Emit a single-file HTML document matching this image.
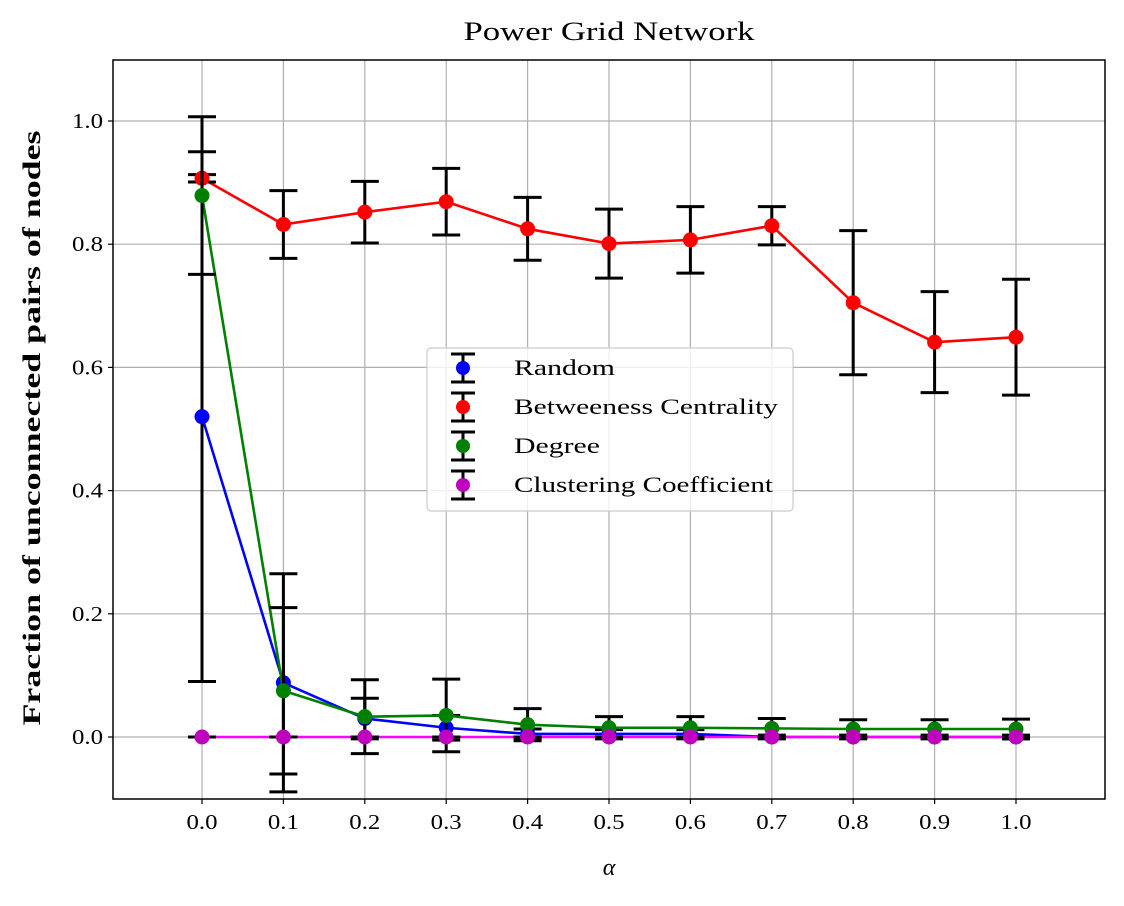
<!DOCTYPE html>
<html><head><meta charset="utf-8"><style>
body{margin:0;background:#fff}
svg text{font-family:"Liberation Serif",serif;fill:#000}
</style></head><body>
<svg id="chart" width="1124" height="901" xmlns="http://www.w3.org/2000/svg"></svg>
<script>
const alphas=[0,0.1,0.2,0.3,0.4,0.5,0.6,0.7,0.8,0.9,1.0];
const randomMean=[0.52,0.088,0.03,0.015,0.005,0.005,0.005,0,0,0,0];
const randomErr=[0.43,0.177,0.033,0.02,0.008,0.007,0.007,0.003,0.003,0.003,0.003];
const betweenMean=[0.907,0.832,0.852,0.869,0.825,0.801,0.807,0.830,0.705,0.641,0.649];
const betweenErr=[0.006,0.055,0.05,0.054,0.051,0.056,0.054,0.031,0.117,0.082,0.094];
const degreeMean=[0.879,0.075,0.033,0.035,0.02,0.015,0.015,0.014,0.013,0.013,0.013];
const degreeErr=[0.128,0.135,0.06,0.059,0.026,0.018,0.018,0.016,0.015,0.015,0.016];
const clusterMean=[0,0,0,0,0,0,0,0,0,0,0];
const clusterErr=[0,0,0,0,0,0,0,0,0,0,0];
const yTicks=[0,0.2,0.4,0.6,0.8,1.0];
const xTicks=[0,0.1,0.2,0.3,0.4,0.5,0.6,0.7,0.8,0.9,1.0];

const L=113,R=1105,T=60,B=799;
const X=v=>202+v*814;
const Y=v=>737-v*616;
const svg=document.getElementById('chart');
const NS='http://www.w3.org/2000/svg';
function mk(tag,attrs,parent){const e=document.createElementNS(NS,tag);for(const k in attrs)e.setAttribute(k,attrs[k]);(parent||svg).appendChild(e);return e;}

const grid=mk('g',{});


xTicks.forEach(t=>{mk('line',{x1:X(t),x2:X(t),y1:T,y2:B,stroke:'#b0b0b0','stroke-width':1.2},grid);});
yTicks.forEach(t=>{mk('line',{x1:L,x2:R,y1:Y(t),y2:Y(t),stroke:'#b0b0b0','stroke-width':1.2},grid);});

const xt=mk('g',{});


xTicks.forEach(t=>{mk('line',{x1:X(t),x2:X(t),y1:B,y2:B+5,stroke:'#000','stroke-width':1.2},xt);
 const tx=mk('text',{x:X(t),y:B+30,'text-anchor':'middle','font-size':21,textLength:31,lengthAdjust:'spacingAndGlyphs'},xt);tx.textContent=t.toFixed(1);});
const yt=mk('g',{});


yTicks.forEach(t=>{mk('line',{x1:L-5,x2:L,y1:Y(t),y2:Y(t),stroke:'#000','stroke-width':1.2},yt);
 const tx=mk('text',{x:L-10,y:Y(t)+7,'text-anchor':'end','font-size':21,textLength:31,lengthAdjust:'spacingAndGlyphs'},yt);tx.textContent=t.toFixed(1);});

const series=[
 {name:'random',mean:randomMean,err:randomErr,line:'#0000ff',mark:'#0000ff'},
 {name:'betweenness',mean:betweenMean,err:betweenErr,line:'#ff0000',mark:'#ff0000'},
 {name:'degree',mean:degreeMean,err:degreeErr,line:'#008000',mark:'#008000'},
 {name:'clustering',mean:clusterMean,err:clusterErr,line:'#ff00ff',mark:'#bf00bf'}];
series.forEach(s=>{
 const g=mk('g',{});
 
 
 const pts=alphas.map((a,i)=>X(a)+','+Y(s.mean[i])).join(' ');
 const pl=mk('polyline',{points:pts,fill:'none',stroke:s.line,'stroke-width':2.6},g);
 
 
 alphas.forEach((a,i)=>{
  const x=X(a),y1=Y(s.mean[i]+s.err[i]),y2=Y(s.mean[i]-s.err[i]);
  mk('line',{x1:x,x2:x,y1:y1,y2:y2,stroke:'#000','stroke-width':3},g);
  mk('line',{x1:x-14,x2:x+14,y1:y1,y2:y1,stroke:'#000','stroke-width':3},g);
  mk('line',{x1:x-14,x2:x+14,y1:y2,y2:y2,stroke:'#000','stroke-width':3},g);
 });
 alphas.forEach((a,i)=>{
  const c=mk('circle',{cx:X(a),cy:Y(s.mean[i]),r:7.5,fill:s.mark},g);
  
  
 });
});

mk('rect',{x:L,y:T,width:R-L,height:B-T,fill:'none',stroke:'#000','stroke-width':1.5});

const title=mk('text',{x:(L+R)/2,y:40,'text-anchor':'middle','font-size':26,textLength:291,lengthAdjust:'spacingAndGlyphs'});
title.textContent='Power Grid Network';


const xl=mk('text',{x:X(0.5),y:875,'text-anchor':'middle','font-size':24,'font-style':'italic'});
xl.textContent='α';


const yl=mk('text',{x:0,y:0,'text-anchor':'middle','font-size':25,'font-weight':'bold',textLength:595,lengthAdjust:'spacingAndGlyphs',transform:'translate(40,428) rotate(-90)'});
yl.textContent='Fraction of unconnected pairs of nodes';



const lg=mk('g',{});


mk('rect',{x:427,y:348,width:366,height:163,rx:4,fill:'#fff','fill-opacity':0.8,stroke:'#ccc','stroke-width':1.2},lg);
const labels=['Random','Betweeness Centrality','Degree','Clustering Coefficient'];
const labelWidths=[101,264,86,259];
labels.forEach((lab,i)=>{
 const y=368+i*39;
 const e=mk('g',{},lg);
 
 
 mk('line',{x1:463,x2:463,y1:y-14,y2:y+14,stroke:'#000','stroke-width':3},e);
 mk('line',{x1:451,x2:475,y1:y-14,y2:y-14,stroke:'#000','stroke-width':3},e);
 mk('line',{x1:451,x2:475,y1:y+14,y2:y+14,stroke:'#000','stroke-width':3},e);
 mk('circle',{cx:463,cy:y,r:7,fill:series[i].mark},e);
 const t=mk('text',{x:514,y:y+7,'font-size':22,textLength:labelWidths[i],lengthAdjust:'spacingAndGlyphs'},e);t.textContent=lab;
});
</script>
</body></html>
